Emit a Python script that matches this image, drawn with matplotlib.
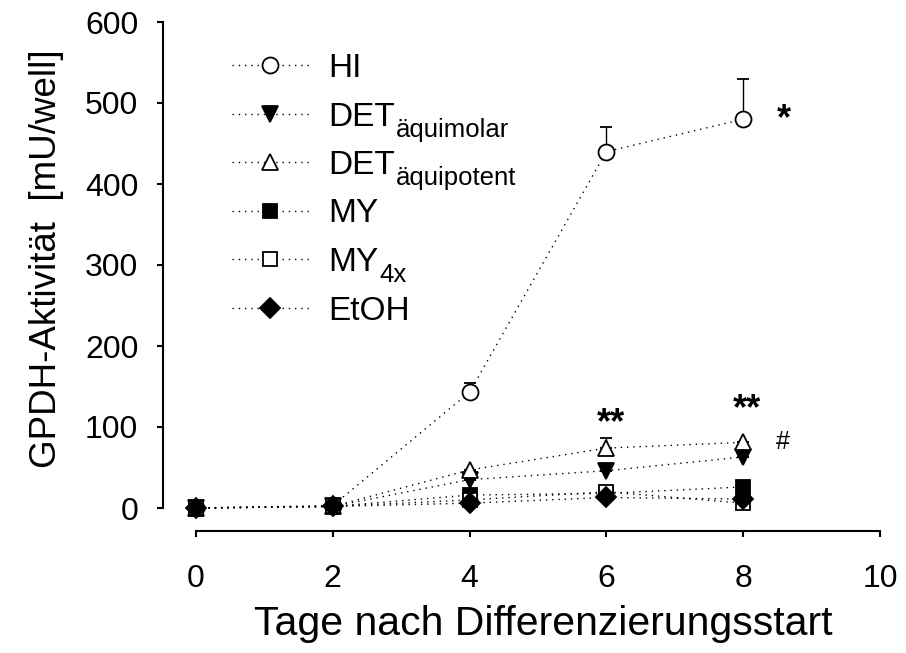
import matplotlib
matplotlib.use("Agg")
import matplotlib.pyplot as plt
from matplotlib.lines import Line2D
import numpy as np

plt.rcParams["font.family"] = ["Liberation Sans", "DejaVu Sans"]

# Daten
tage = [0, 2, 4, 6, 8]
hi = [0, 3, 143, 440, 480]
hi_err = [0, 0, 11, 30, 50]
det_mol = [0, 2, 35, 46, 63]
det_mol_err = [0, 0, 0, 0, 0]
det_pot = [0, 2, 47, 74, 81]
det_pot_err = [0, 0, 0, 13, 0]
my = [0, 2, 16, 18, 26]
my_err = [0, 0, 0, 0, 0]
my4x = [0, 2, 10, 20, 6]
my4x_err = [0, 0, 0, 0, 0]
etoh = [0, 2, 6, 13, 11]
etoh_err = [0, 0, 0, 0, 0]

# (Name, Index, Werte, Fehler, Marker, Füllfarbe)
serien = [
    ("HI", "", hi, hi_err, "o", "white"),
    ("DET", "äquimolar", det_mol, det_mol_err, "v", "black"),
    ("DET", "äquipotent", det_pot, det_pot_err, "^", "white"),
    ("MY", "", my, my_err, "s", "black"),
    ("MY", "4x", my4x, my4x_err, "s", "white"),
    ("EtOH", "", etoh, etoh_err, "D", "black"),
]
groessen = {"o": 11.5, "v": 12, "^": 12, "s": 10.5, "D": 10}
punktlinie = (0, (1, 3.5))

W, H = 906, 653
fig = plt.figure(figsize=(W / 100, H / 100), dpi=100)
ax = fig.add_axes([196 / W, 1 - 508 / H, 684 / W, 486 / H])

for name, index, werte, fehler, marker, farbe in serien:
    ax.errorbar(
        tage, werte,
        yerr=[np.zeros(len(fehler)), fehler],
        fmt=marker, linestyle=punktlinie, linewidth=1, color="black",
        markerfacecolor=farbe, markeredgecolor="black", markeredgewidth=1.3,
        markersize=groessen[marker], ecolor="black", elinewidth=1,
        capsize=4, capthick=1, clip_on=False,
    )

ax.set_xlim(0, 10)
ax.set_ylim(0, 600)
ax.set_xticks([0, 2, 4, 6, 8, 10])
ax.set_yticks(range(0, 601, 100))

for s in ["top", "right"]:
    ax.spines[s].set_visible(False)
ax.spines["left"].set_position(("outward", 24))
ax.spines["bottom"].set_position(("outward", 16.5))
ax.spines["left"].set_linewidth(1.5)
ax.spines["bottom"].set_linewidth(1.5)
ax.tick_params(axis="y", direction="out", length=4.5, width=1.5, labelsize=23, pad=13)
ax.tick_params(axis="x", direction="out", length=4.5, width=1.5, labelsize=23, pad=19)

ax.set_xlabel("Tage nach Differenzierungsstart", fontsize=29.5)
ax.set_ylabel("GPDH-Aktivität  [mU/well]", fontsize=26.5)
ax.xaxis.set_label_coords(0.507, -0.2)
ax.yaxis.set_label_coords(-0.193, 0.514)

# Signifikanzen
ax.text(8.6, 479, "*", fontsize=26, fontweight="bold", ha="center", va="center")
ax.text(6.07, 104, "**", fontsize=26, fontweight="bold", ha="center", va="center")
ax.text(8.05, 122, "**", fontsize=26, fontweight="bold", ha="center", va="center")
ax.text(8.58, 82, "#", fontsize=18, ha="center", va="center")

# Legende
for i, (name, index, werte, fehler, marker, farbe) in enumerate(serien):
    py = 65 + i * 48.5
    yf = 1 - py / H
    fig.add_artist(Line2D([232 / W, 310 / W], [yf, yf], linestyle=punktlinie,
                          linewidth=1, color="black"))
    fig.add_artist(Line2D([270 / W], [yf], marker=marker, markersize=groessen[marker],
                          markerfacecolor=farbe, markeredgecolor="black",
                          markeredgewidth=1.3, linestyle="none"))
    t = fig.text(328 / W, 1 - (py + 12) / H, name, fontsize=24,
                 ha="left", va="baseline")
    if index:
        ax.annotate(index, xy=(1, 0), xycoords=t, xytext=(1, -3),
                    textcoords="offset points", fontsize=18.5,
                    ha="left", va="baseline", annotation_clip=False)

fig.savefig("out.png", dpi=100)
